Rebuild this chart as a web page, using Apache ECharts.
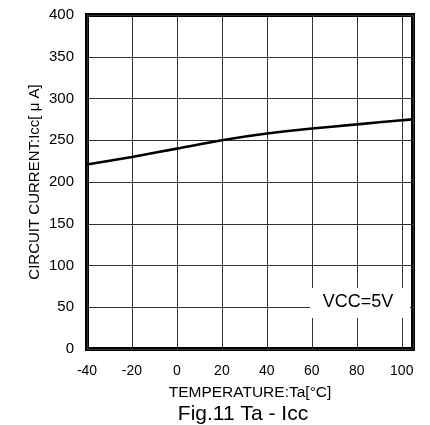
<!DOCTYPE html>
<html><head><meta charset="utf-8">
<script src="https://cdn.jsdelivr.net/npm/echarts@6/dist/echarts.min.js"></script>
<style>html,body{margin:0;padding:0;background:#fff}#c{width:430px;height:425px}</style>
</head><body><div id="c"></div>
<script>
const temps = [-40, -20, 0, 20, 40, 60, 80, 100, 105];
const icc = [221, 230, 240, 250, 258, 264, 269, 274, 275];
const xTicks = [-40, -20, 0, 20, 40, 60, 80, 100];
const chart = echarts.init(document.getElementById('c'));
const F = 'Liberation Sans, Arial, sans-serif';
chart.setOption({
  animation: false,
  grid: {left: 87, right: 17, top: 15, bottom: 76, show: true, borderColor: '#000', borderWidth: 4, backgroundColor: 'transparent'},
  xAxis: {
    type: 'value', min: -40, max: 105, interval: 20,
    name: 'TEMPERATURE:Ta[°C]', nameLocation: 'middle', nameGap: 36, nameMoveOverlap: false,
    nameTextStyle: {fontFamily: F, fontSize: 15.5, color: '#000'},
    axisLine: {show: false}, axisTick: {show: false},
    axisLabel: {fontFamily: F, fontSize: 14, color: '#000', margin: 15,
      formatter: v => xTicks.includes(v) ? String(v) : ''},
    splitLine: {show: true, lineStyle: {color: '#333', width: 1}}
  },
  yAxis: {
    type: 'value', min: 0, max: 400, interval: 50,
    name: 'CIRCUIT CURRENT:Icc[ μ A]', nameLocation: 'middle', nameGap: 45, nameMoveOverlap: false,
    nameTextStyle: {fontFamily: F, fontSize: 15, color: '#000'},
    axisLine: {show: false}, axisTick: {show: false},
    axisLabel: {fontFamily: F, fontSize: 15, color: '#000', margin: 13},
    splitLine: {show: true, lineStyle: {color: '#333', width: 1}}
  },
  series: [{
    type: 'line', data: temps.map((t, i) => [t, icc[i]]), smooth: 0.3,
    showSymbol: false, lineStyle: {color: '#000', width: 2.6}, z: 3
  }],
  graphic: [
    {type: 'rect', shape: {x: 310, y: 288, width: 100, height: 30}, style: {fill: '#fff'}, z: 10},
    {type: 'text', x: 358, y: 302, style: {text: 'VCC=5V', fontFamily: F, fontSize: 18, fill: '#000', align: 'center', verticalAlign: 'middle'}, z: 11},
    {type: 'text', x: 243, y: 414, style: {text: 'Fig.11 Ta - Icc', fontFamily: F, fontSize: 21, fill: '#000', align: 'center', verticalAlign: 'middle'}, z: 11}
  ]
});
</script></body></html>
